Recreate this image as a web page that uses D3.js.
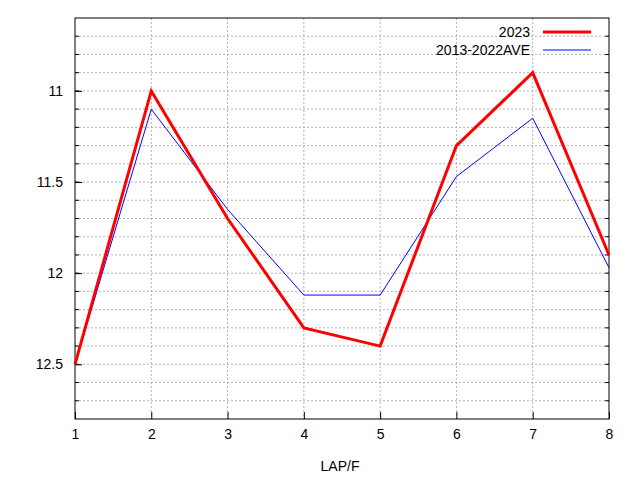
<!DOCTYPE html>
<html><head><meta charset="utf-8">
<script src="https://cdn.jsdelivr.net/npm/d3@7"></script>
<style>body{margin:0;background:#fff}text{font-family:"Liberation Sans",Arial,sans-serif;font-size:14px}</style>
</head><body>
<svg id="chart" width="640" height="480"></svg>
<script>
var laps = [1, 2, 3, 4, 5, 6, 7, 8]
var y2023 = [12.5, 11.0, 11.7, 12.3, 12.4, 11.3, 10.9, 11.9]
var yAve = [12.5, 11.1, 11.65, 12.12, 12.12, 11.47, 11.15, 11.97]
var yTicks = [11, 11.5, 12, 12.5]
var series = [
  {name: "2023", values: y2023, color: "#ff0000", width: 3},
  {name: "2013-2022AVE", values: yAve, color: "#0000ff", width: 1}
]

var margin = {top: 18, right: 31, bottom: 61, left: 75}
var width = 640, height = 480
var svg = d3.select("#chart")

var x = d3.scaleLinear().domain([1, 8]).range([margin.left, width - margin.right])
var y = d3.scaleLinear().domain([10.6, 12.8]).range([margin.top, height - margin.bottom])

// grid, every 0.1 in y and every lap in x
var minor = d3.range(107, 128).map(d => d / 10)
svg.append("g").selectAll("line").data(minor).join("line")
  .attr("x1", x(1)).attr("x2", x(8))
  .attr("y1", d => y(d)).attr("y2", d => y(d))
  .attr("stroke", "#a0a0a0").attr("stroke-width", 0.8).attr("stroke-dasharray", "2,2")
svg.append("g").selectAll("line").data(laps.slice(1, -1)).join("line")
  .attr("x1", d => x(d)).attr("x2", d => x(d))
  .attr("y1", y(10.6)).attr("y2", y(12.8))
  .attr("stroke", "#a0a0a0").attr("stroke-width", 0.8).attr("stroke-dasharray", "2,2")

// ticks inside
svg.append("g").attr("transform", `translate(0,${y(12.8)})`)
  .call(d3.axisBottom(x).tickValues(laps).tickFormat(d3.format("d")).tickSize(-7).tickPadding(10))
  .call(g => g.select(".domain").remove())
svg.append("g").attr("transform", `translate(${x(1)},0)`)
  .call(d3.axisLeft(y).tickValues(yTicks).tickFormat(d => d).tickSize(-7).tickPadding(12))
  .call(g => g.select(".domain").remove())
svg.append("g").selectAll("line").data(minor).join("line")
  .attr("x1", x(1)).attr("x2", x(1) + 4).attr("y1", d => y(d)).attr("y2", d => y(d)).attr("stroke", "#000")
svg.append("g").selectAll("line").data(minor).join("line")
  .attr("x1", x(8)).attr("x2", x(8) - 4).attr("y1", d => y(d)).attr("y2", d => y(d)).attr("stroke", "#000")
svg.selectAll(".tick text").attr("fill", "#000").style("font-size", "14px")

svg.append("rect").attr("x", x(1)).attr("y", y(10.6))
  .attr("width", x(8) - x(1)).attr("height", y(12.8) - y(10.6))
  .attr("fill", "none").attr("stroke", "#000")

var line = d3.line().x((d, i) => x(laps[i])).y(d => y(d))
svg.append("g").attr("clip-path", null).selectAll("path").data(series.slice().reverse()).join("path")
  .attr("d", d => line(d.values)).attr("fill", "none")
  .attr("stroke", d => d.color).attr("stroke-width", d => d.width)

var lg = svg.append("g").selectAll("g").data(series).join("g")
  .attr("transform", (d, i) => `translate(0,${32 + i * 18})`)
lg.append("text").attr("x", 530).attr("dy", "0.35em").attr("text-anchor", "end").text(d => d.name)
lg.append("line").attr("x1", 543).attr("x2", 591)
  .attr("stroke", d => d.color).attr("stroke-width", d => d.width)

svg.append("text").attr("x", 340).attr("y", 471).attr("text-anchor", "middle").text("LAP/F")
</script>
</body></html>
